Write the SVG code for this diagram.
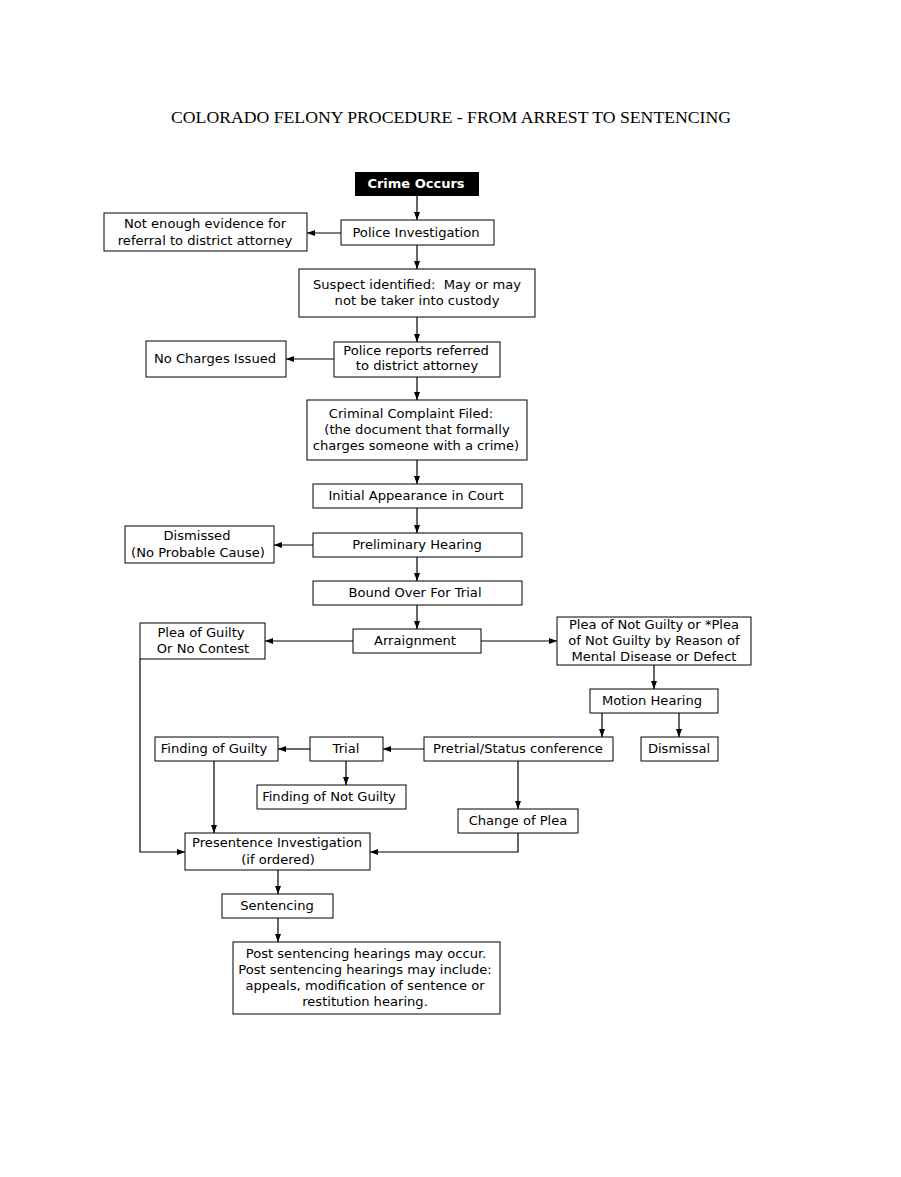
<svg xmlns="http://www.w3.org/2000/svg" width="901" height="1177" viewBox="0 0 901 1177">
<defs>
<marker id="ah" viewBox="0 0 8 8" refX="8" refY="4" markerWidth="8" markerHeight="8" markerUnits="userSpaceOnUse" orient="auto">
<path d="M0,1 L8,4 L0,7 z" fill="#000"/>
</marker>
</defs>
<style>
.b{fill:#fff;stroke:#000;stroke-width:1}
.t{font-family:"DejaVu Sans",Verdana,sans-serif;font-size:13.1px;fill:#000;text-anchor:middle;white-space:pre}
.c{fill:none;stroke:#000;stroke-width:1.2;marker-end:url(#ah)}
.title{font-family:"Liberation Serif","Times New Roman",serif;font-size:17.7px;text-anchor:middle;fill:#000}
</style>
<rect width="901" height="1177" fill="#fff"/>
<text class="title" x="451" y="123">COLORADO FELONY PROCEDURE - FROM ARREST TO SENTENCING</text>

<g id="connectors">
<path class="c" d="M417,196 V220"/>
<path class="c" d="M341,233 H307"/>
<path class="c" d="M417,245 V269"/>
<path class="c" d="M417,317 V342"/>
<path class="c" d="M334,359 H286"/>
<path class="c" d="M417,377 V400"/>
<path class="c" d="M417,460 V484"/>
<path class="c" d="M417,508 V533"/>
<path class="c" d="M313,545 H274"/>
<path class="c" d="M417,557 V581"/>
<path class="c" d="M417,605 V629"/>
<path class="c" d="M353,641 H265"/>
<path class="c" d="M481,641 H557"/>
<path class="c" d="M654,665 V689"/>
<path class="c" d="M602,713 V737"/>
<path class="c" d="M679,713 V737"/>
<path class="c" d="M424,749 H383"/>
<path class="c" d="M310,749 H278"/>
<path class="c" d="M346,761 V785"/>
<path class="c" d="M214,761 V833"/>
<path class="c" d="M518,761 V809"/>
<path class="c" d="M518,833 V852 H370"/>
<path class="c" d="M140,659 V852 H185"/>
<path class="c" d="M278,870 V894"/>
<path class="c" d="M278,918 V942"/>
</g>

<g id="crime"><rect x="355" y="172" width="124" height="24" fill="#000"/><text x="416" y="188" style="font-family:'DejaVu Sans',Verdana,sans-serif;font-size:13px;font-weight:bold;fill:#fff;text-anchor:middle">Crime Occurs</text></g>
<g id="police"><rect class="b" x="341" y="220" width="153" height="25"/><text class="t" x="416" y="237">Police Investigation</text></g>
<g id="noevidence"><rect class="b" x="104" y="213" width="203" height="38"/><text class="t" x="205" y="228">Not enough evidence for</text><text class="t" x="205" y="245">referral to district attorney</text></g>
<g id="suspect"><rect class="b" x="299" y="269" width="236" height="48"/><text class="t" x="417" y="289">Suspect identified:  May or may</text><text class="t" x="417" y="305">not be taker into custody</text></g>
<g id="reports"><rect class="b" x="334" y="342" width="166" height="35"/><text class="t" x="416" y="355">Police reports referred</text><text class="t" x="417" y="370">to district attorney</text></g>
<g id="nocharges"><rect class="b" x="146" y="341" width="140" height="36"/><text class="t" x="215" y="363">No Charges Issued</text></g>
<g id="complaint"><rect class="b" x="307" y="400" width="220" height="60"/><text class="t" x="411" y="418">Criminal Complaint Filed:</text><text class="t" x="417" y="434">(the document that formally</text><text class="t" x="416" y="450">charges someone with a crime)</text></g>
<g id="initial"><rect class="b" x="313" y="484" width="209" height="24"/><text class="t" x="416" y="500">Initial Appearance in Court</text></g>
<g id="prelim"><rect class="b" x="313" y="533" width="209" height="24"/><text class="t" x="417" y="549">Preliminary Hearing</text></g>
<g id="dismissed"><rect class="b" x="125" y="526" width="149" height="37"/><text class="t" x="197" y="540">Dismissed</text><text class="t" x="198" y="557">(No Probable Cause)</text></g>
<g id="bound"><rect class="b" x="313" y="581" width="209" height="24"/><text class="t" x="415" y="597">Bound Over For Trial</text></g>
<g id="arraign"><rect class="b" x="353" y="629" width="128" height="24"/><text class="t" x="415" y="645">Arraignment</text></g>
<g id="pleaguilty"><rect class="b" x="140" y="623" width="125" height="36"/><text class="t" x="201" y="637">Plea of Guilty</text><text class="t" x="203" y="653">Or No Contest</text></g>
<g id="pleanot"><rect class="b" x="557" y="617" width="194" height="48"/><text class="t" x="654" y="629">Plea of Not Guilty or *Plea</text><text class="t" x="654" y="645">of Not Guilty by Reason of</text><text class="t" x="654" y="661">Mental Disease or Defect</text></g>
<g id="motion"><rect class="b" x="590" y="689" width="128" height="24"/><text class="t" x="652" y="705">Motion Hearing</text></g>
<g id="pretrial"><rect class="b" x="424" y="737" width="189" height="24"/><text class="t" x="518" y="753">Pretrial/Status conference</text></g>
<g id="dismissal"><rect class="b" x="641" y="737" width="77" height="24"/><text class="t" x="679" y="753">Dismissal</text></g>
<g id="trial"><rect class="b" x="310" y="737" width="73" height="24"/><text class="t" x="346" y="753">Trial</text></g>
<g id="guilty"><rect class="b" x="155" y="737" width="123" height="24"/><text class="t" x="214" y="753">Finding of Guilty</text></g>
<g id="notguilty"><rect class="b" x="257" y="785" width="149" height="24"/><text class="t" x="329" y="801">Finding of Not Guilty</text></g>
<g id="changeplea"><rect class="b" x="458" y="809" width="120" height="24"/><text class="t" x="518" y="825">Change of Plea</text></g>
<g id="presentence"><rect class="b" x="185" y="833" width="185" height="37"/><text class="t" x="277" y="847">Presentence Investigation</text><text class="t" x="278" y="864">(if ordered)</text></g>
<g id="sentencing"><rect class="b" x="222" y="894" width="111" height="24"/><text class="t" x="277" y="910">Sentencing</text></g>
<g id="post"><rect class="b" x="233" y="942" width="267" height="72"/><text class="t" x="366" y="958">Post sentencing hearings may occur.</text><text class="t" x="365" y="974">Post sentencing hearings may include:</text><text class="t" x="365" y="990">appeals, modification of sentence or</text><text class="t" x="365" y="1006">restitution hearing.</text></g>
</svg>
